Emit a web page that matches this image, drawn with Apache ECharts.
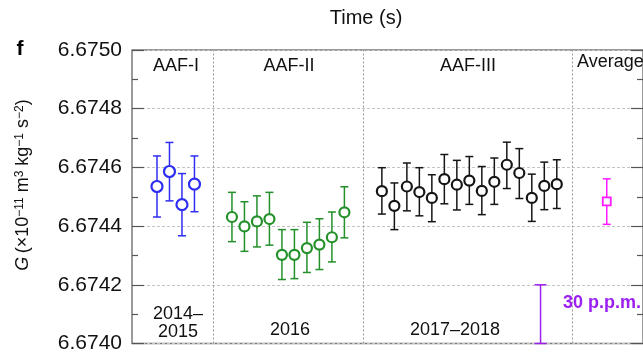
<!DOCTYPE html>
<html><head><meta charset="utf-8">
<script src="https://cdn.jsdelivr.net/npm/echarts@6/dist/echarts.min.js"></script>
<style>html,body{margin:0;padding:0;background:#fff}#c{width:643px;height:354px}</style>
</head><body><div id="c"></div>
<script>
// ---- data ----
const yTicks = ['6.6740','6.6742','6.6744','6.6746','6.6748','6.6750'];
const groupNames = ['AAF-I','AAF-II','AAF-III','Average'];
const periodNames = ['2014–\n2015','2016','2017–2018'];
const groupBounds = [6.5, 18.5, 35.25];

const blueX  = [2,3,4,5];
const blueY  = [6.674535, 6.674586, 6.674473, 6.674543];
const blueLo = [6.674431, 6.674486, 6.674367, 6.674449];
const blueHi = [6.674639, 6.674685, 6.674579, 6.674639];

const greenX  = [8,9,10,11,12,13,14,15,16,17];
const greenY  = [6.674431, 6.674399, 6.674416, 6.674424, 6.674302, 6.674302, 6.674325, 6.674337, 6.674362, 6.674447];
const greenLo = [6.674347, 6.674314, 6.674329, 6.674335, 6.674218, 6.674221, 6.674242, 6.674252, 6.674278, 6.674360];
const greenHi = [6.674515, 6.674483, 6.674503, 6.674515, 6.674388, 6.674388, 6.674413, 6.674425, 6.674448, 6.674534];

const blackX  = [20,21,22,23,24,25,26,27,28,29,30,31,32,33,34];
const blackY  = [6.674519, 6.674469, 6.674535, 6.674516, 6.674496, 6.674560, 6.674541, 6.674555, 6.674520, 6.674551, 6.674609, 6.674581, 6.674496, 6.674537, 6.674543];
const blackLo = [6.674441, 6.674388, 6.674452, 6.674435, 6.674415, 6.674476, 6.674455, 6.674474, 6.674439, 6.674474, 6.674528, 6.674494, 6.674416, 6.674456, 6.674460];
const blackHi = [6.674599, 6.674547, 6.674615, 6.674599, 6.674575, 6.674644, 6.674624, 6.674637, 6.674603, 6.674632, 6.674686, 6.674664, 6.674577, 6.674618, 6.674626];

const avgX  = [38];
const avgY  = [6.674484];
const avgLo = [6.674406];
const avgHi = [6.674561];

const scaleBarX = [32.7];
const scaleBarLo = [6.6740];
const scaleBarHi = [6.6742];
const scaleBarText = '30 p.p.m.';

// ---- chart ----
const FONT = '"Liberation Sans", Arial, Helvetica, sans-serif';
const chart = echarts.init(document.getElementById('c'), null, {renderer: 'canvas'});

function zip3(xs, lo, hi) { return xs.map((x, i) => [x, lo[i], hi[i]]); }
function zip2(xs, ys) { return xs.map((x, i) => [x, ys[i]]); }

function errSeries(xs, lo, hi, color, cap, w) {
  return {
    type: 'custom', data: zip3(xs, lo, hi), z: 3, silent: true,
    renderItem: function (params, api) {
      const x = api.value(0);
      const p1 = api.coord([x, api.value(1)]);
      const p2 = api.coord([x, api.value(2)]);
      const st = {stroke: color, lineWidth: w};
      return {type: 'group', children: [
        {type: 'line', shape: {x1: p1[0], y1: p1[1], x2: p2[0], y2: p2[1]}, style: st},
        {type: 'line', shape: {x1: p1[0]-cap, y1: p1[1], x2: p1[0]+cap, y2: p1[1]}, style: st},
        {type: 'line', shape: {x1: p2[0]-cap, y1: p2[1], x2: p2[0]+cap, y2: p2[1]}, style: st}
      ]};
    }
  };
}
function markerSeries(xs, ys, color, symbol, size, bw) {
  return {
    type: 'scatter', data: zip2(xs, ys), symbol: symbol, symbolSize: size, z: 4, silent: true,
    itemStyle: {color: '#fff', borderColor: color, borderWidth: bw, opacity: 1}
  };
}

const BLUE = '#2e2ef2', GREEN = '#23902a', BLACK = '#151515', MAG = '#ff1aff', PURP = '#9a1ff0';

const option = {
  animation: false,
  grid: {left: 132, top: 50, width: 514, height: 294, show: true, borderColor: '#7a7a7a', borderWidth: 1.5, backgroundColor: 'transparent'},
  xAxis: {type: 'value', min: 0, max: 40.9, show: false},
  yAxis: [{
    type: 'value', min: 6.6740, max: 6.6750, interval: 0.0002, position: 'left',
    axisLine: {show: false},
    axisTick: {show: true, inside: true, length: 12, lineStyle: {color: '#555', width: 1.2}},
    minorTick: {show: true, splitNumber: 2, length: 6, lineStyle: {color: '#555', width: 1.2}},
    splitLine: {show: true, lineStyle: {color: '#c4c4c4', type: [3, 2], width: 1}},
    axisLabel: {margin: 10, fontFamily: FONT, fontSize: 21, color: '#111',
      formatter: function (v) { const s = v.toFixed(4); return yTicks.indexOf(s) >= 0 ? s : ''; }}
  }, {
    type: 'value', min: 6.6740, max: 6.6750, interval: 0.0002, position: 'right',
    axisLine: {show: false},
    axisTick: {show: true, inside: true, length: 12, lineStyle: {color: '#555', width: 1.2}},
    minorTick: {show: true, splitNumber: 2, length: 6, lineStyle: {color: '#555', width: 1.2}},
    splitLine: {show: false}, axisLabel: {show: false}
  }],
  series: [
    {type: 'line', data: [], silent: true,
     markLine: {silent: true, symbol: 'none', label: {show: false},
       lineStyle: {color: '#9a9a9a', type: [2, 2], width: 1},
       data: groupBounds.map(b => ({xAxis: b}))}},
    errSeries(blueX, blueLo, blueHi, BLUE, 4, 1.5),
    markerSeries(blueX, blueY, BLUE, 'circle', 11, 2.2),
    errSeries(greenX, greenLo, greenHi, GREEN, 4, 1.5),
    markerSeries(greenX, greenY, GREEN, 'circle', 10, 2.2),
    errSeries(blackX, blackLo, blackHi, BLACK, 4, 1.5),
    markerSeries(blackX, blackY, BLACK, 'circle', 10, 2.2),
    errSeries(avgX, avgLo, avgHi, MAG, 4, 1.5),
    markerSeries(avgX, avgY, MAG, 'rect', 8, 1.8),
    errSeries(scaleBarX, scaleBarLo, scaleBarHi, PURP, 6, 1.5)
  ],
  graphic: [
    {type: 'text', style: {text: 'Time (s)', x: 366, y: 18, align: 'center', verticalAlign: 'middle', font: '20px ' + FONT, fill: '#111'}},
    {type: 'text', style: {text: 'f', x: 20, y: 49, align: 'center', verticalAlign: 'middle', font: 'bold 21px ' + FONT, fill: '#000'}},
    {type: 'text', x: 23, y: 185, rotation: Math.PI / 2, style: {
      text: '{i|G} {n|(×10}{s|−11}{n| m}{s|3}{n| kg}{s|−1}{n| s}{s|−2}{n|)}',
      align: 'center', verticalAlign: 'middle', fill: '#111',
      rich: {
        i: {fontFamily: FONT, fontSize: 18, fontStyle: 'italic', lineHeight: 18, verticalAlign: 'bottom', fill: '#111'},
        n: {fontFamily: FONT, fontSize: 18, lineHeight: 18, verticalAlign: 'bottom', fill: '#111'},
        s: {fontFamily: FONT, fontSize: 12, lineHeight: 18, verticalAlign: 'top', fill: '#111'}
      }}},
    {type: 'text', style: {text: groupNames[0], x: 176, y: 66, align: 'center', verticalAlign: 'middle', font: '18px ' + FONT, fill: '#111'}},
    {type: 'text', style: {text: groupNames[1], x: 289, y: 66, align: 'center', verticalAlign: 'middle', font: '18px ' + FONT, fill: '#111'}},
    {type: 'text', style: {text: groupNames[2], x: 468, y: 66, align: 'center', verticalAlign: 'middle', font: '18px ' + FONT, fill: '#111'}},
    {type: 'text', style: {text: groupNames[3], x: 577, y: 62, align: 'left', verticalAlign: 'middle', font: '18px ' + FONT, fill: '#111'}},
    {type: 'text', style: {text: periodNames[0], x: 178, y: 323, align: 'center', verticalAlign: 'middle', font: '18px ' + FONT, lineHeight: 18, fill: '#111'}},
    {type: 'text', style: {text: periodNames[1], x: 290, y: 330, align: 'center', verticalAlign: 'middle', font: '18px ' + FONT, fill: '#111'}},
    {type: 'text', style: {text: periodNames[2], x: 455, y: 330, align: 'center', verticalAlign: 'middle', font: '18px ' + FONT, fill: '#111'}},
    {type: 'text', style: {text: scaleBarText, x: 563, y: 303, align: 'left', verticalAlign: 'middle', font: 'bold 18px ' + FONT, fill: PURP}}
  ]
};
chart.setOption(option);
</script>
</body></html>
